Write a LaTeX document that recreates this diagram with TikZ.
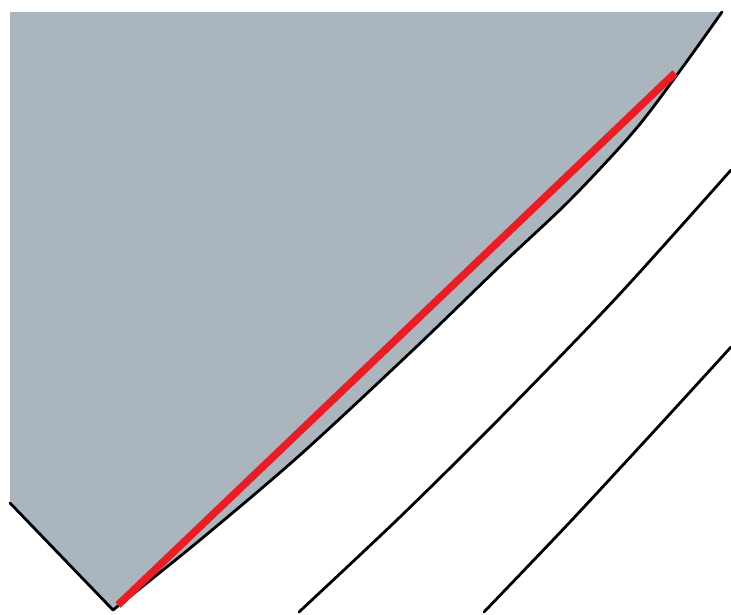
\documentclass[tikz,border=0pt]{standalone}
\usetikzlibrary{calc}
\definecolor{slab}{RGB}{171,181,190}
\definecolor{cutred}{RGB}{236,28,36}

\begin{document}
\begin{tikzpicture}[x=1pt, y=-1pt, line join=round, line cap=round,
    edge/.style={draw=black, line width=2.8pt},
    cut/.style={draw=cutred, line width=7.5pt, line cap=butt}]
        \useasboundingbox (0,0) rectangle (731,614);

        % corner points of the grey part
        \coordinate (tl) at (10,12);
        \coordinate (tr) at (722,12);
        \coordinate (bl) at (10,503);
        \coordinate (tip) at (113,610);

        \fill[slab] (tl) -- (tr)
          -- plot[smooth] coordinates {(722,12) (682,68) (635,130) (570,200) (500,266) (413,350) (300,455) (200,540) (113,610)}
          -- (bl) -- cycle;

        % outline of the grey part
        \draw[edge] (bl) -- (tip);
        \draw[edge] plot[smooth] coordinates {(113,610) (200,540) (300,455) (413,350) (500,266) (570,200) (635,130) (682,68) (722,12)};

        % red line
        \coordinate (r1) at (118,605);
        \coordinate (r2) at (675,73);
        \draw[cut] (r1) -- (r2);

        % the two outer curves
        \draw[edge] plot[smooth] coordinates {(299,612) (400,517) (500,418) (617,297) (731,170)};
        \draw[edge] plot[smooth] coordinates {(484,612) (570,522) (657,428) (731,347)};
      \end{tikzpicture}
\end{document}
